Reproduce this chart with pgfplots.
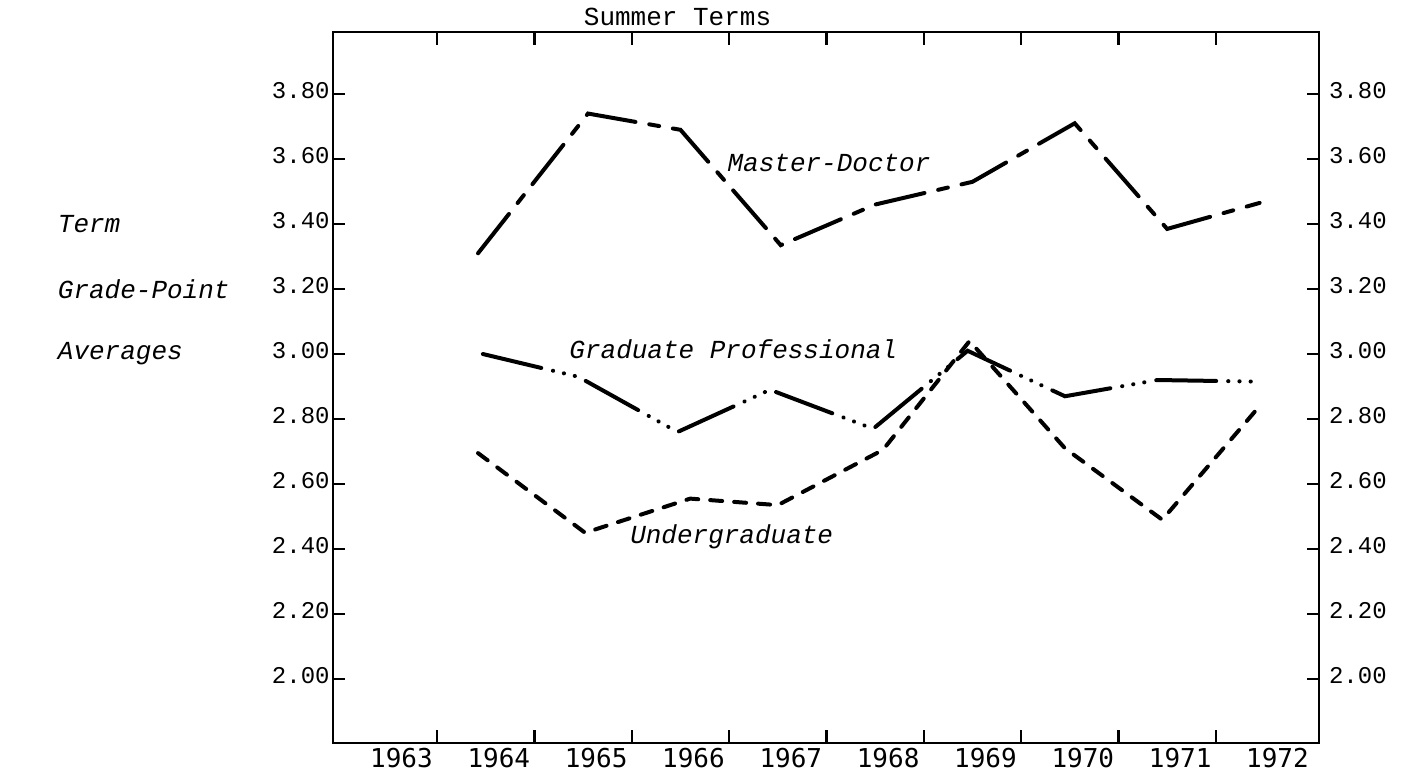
\documentclass[border=0pt]{standalone}
\usepackage{fontspec}
\usepackage{pgfplots}
\pgfplotsset{compat=1.18}
\setmainfont{Liberation Mono}
\newfontfamily\yearfont{DejaVu Sans Mono}
\begin{document}
\begin{tikzpicture}[x=1pt,y=1pt]
\path[use as bounding box] (-166.5,-17) rectangle (536,371.5);
\pgfplotsset{
  common/.style={
    at={(0,0)}, anchor=south west, scale only axis,
    width=493pt, height=355.5pt,
    xmin=1962.43, xmax=1972.56, ymin=1.803, ymax=3.991,
    ytick={2.0,2.2,2.4,2.6,2.8,3.0,3.2,3.4,3.6,3.8},
    tick align=inside,
    major tick length=6pt, minor tick length=6.5pt,
    every tick/.style={black, line width=1.1pt},
    axis line style={line width=1.2pt},
    /pgf/number format/assume math mode=true,
    yticklabel={\pgfmathprintnumber[fixed,fixed zerofill,precision=2]{\tick}},
    yticklabel style={font=\fontsize{12}{12}\selectfont, yshift=1.5pt},
  }
}
\begin{axis}[common, clip=false,
  xtick={1963,1964,1965,1966,1967,1968,1969,1970,1971,1972},
  xticklabels={1963,1964,1965,1966,1967,1968,1969,1970,1971,1972},
  major x tick style={draw=none},
  minor xtick={1963.5,1964.5,1965.5,1966.5,1967.5,1968.5,1969.5,1970.5,1971.5},
  xticklabel style={font=\yearfont\fontsize{13}{13}\selectfont, xshift=6.5pt, yshift=1pt},
  yticklabel style={inner sep=1.5pt},
]
\addplot[black, line width=2pt, line cap=round, dash pattern=on 25pt off 7pt on 5pt off 7pt] coordinates {
 (1963.92,3.31) (1965.05,3.74) (1966.0,3.69) (1967.03,3.335) (1968.0,3.46)
 (1969.0,3.53) (1970.05,3.71) (1971.0,3.385) (1971.95,3.465)};
\addplot[black, line width=2pt, line cap=round, dash pattern=on 30pt off 6pt on 0.1pt off 5.5pt on 0.1pt off 5.5pt on 0.1pt off 6pt] coordinates {
 (1963.97,3.00) (1964.95,2.93) (1965.97,2.76) (1966.92,2.89) (1967.98,2.77)
 (1968.95,3.01) (1969.95,2.87) (1970.9,2.92) (1971.95,2.915)};
\addplot[black, line width=2pt, line cap=round, dash pattern=on 6pt off 6pt] coordinates {
 (1963.92,2.695) (1965.02,2.45) (1966.1,2.555) (1967.0,2.535) (1968.08,2.705)
 (1968.97,3.04) (1969.95,2.71) (1970.95,2.49) (1971.95,2.84)};
\node[anchor=west, font=\itshape\fontsize{13}{13}\selectfont, inner sep=0pt] at (axis cs:1966.48,3.588) {Master-Doctor};
\node[anchor=east, font=\itshape\fontsize{13}{13}\selectfont, inner sep=0pt] at (axis cs:1968.23,3.015) {Graduate Professional};
\node[anchor=west, font=\itshape\fontsize{13}{13}\selectfont, inner sep=0pt] at (axis cs:1965.48,2.437) {Undergraduate};
\node[anchor=west, font=\itshape\fontsize{13}{13}\selectfont, inner sep=0pt] at (axis cs:1959.6,3.40) {Term};
\node[anchor=west, font=\itshape\fontsize{13}{13}\selectfont, inner sep=0pt] at (axis cs:1959.6,3.20) {Grade-Point};
\node[anchor=west, font=\itshape\fontsize{13}{13}\selectfont, inner sep=0pt] at (axis cs:1959.6,3.00) {Averages};
\node[anchor=base, font=\fontsize{13}{13}\selectfont, inner sep=0pt] at ([yshift=3pt]axis cs:1965.97,3.991) {Summer Terms};
\end{axis}
\begin{axis}[common, hide x axis, axis y line*=right,
  ytick pos=right, yticklabel pos=right,
  yticklabel style={xshift=1.5pt},
]
\end{axis}
\end{tikzpicture}
\end{document}
